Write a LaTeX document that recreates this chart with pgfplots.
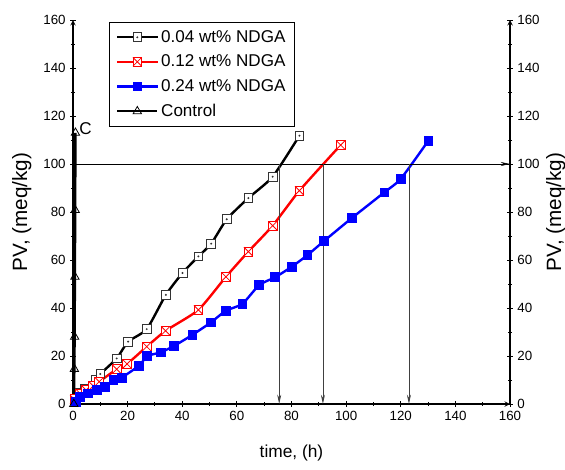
\documentclass[border=0pt]{standalone}
\usepackage{fontspec}
\setmainfont{Liberation Sans}
\usepackage{pgfplots}
\pgfplotsset{compat=1.18}
\usetikzlibrary{arrows.meta}

\pgfdeclareplotmark{sqdot}{%
  \pgfpathrectangle{\pgfpoint{-\pgfplotmarksize}{-\pgfplotmarksize}}{\pgfpoint{2\pgfplotmarksize}{2\pgfplotmarksize}}%
  \pgfusepathqfillstroke
  \pgfpathcircle{\pgfpointorigin}{0.12\pgfplotmarksize}\pgfusepathqstroke
}
\pgfdeclareplotmark{sqx}{%
  \pgfpathrectangle{\pgfpoint{-\pgfplotmarksize}{-\pgfplotmarksize}}{\pgfpoint{2\pgfplotmarksize}{2\pgfplotmarksize}}%
  \pgfusepathqfillstroke
  \pgfpathmoveto{\pgfpoint{-\pgfplotmarksize}{-\pgfplotmarksize}}\pgfpathlineto{\pgfpoint{\pgfplotmarksize}{\pgfplotmarksize}}%
  \pgfpathmoveto{\pgfpoint{-\pgfplotmarksize}{\pgfplotmarksize}}\pgfpathlineto{\pgfpoint{\pgfplotmarksize}{-\pgfplotmarksize}}%
  \pgfusepathqstroke
}

\begin{document}
\begin{tikzpicture}
\pgfplotsset{
  common/.style={
    scale only axis, width=327.75pt, height=288pt,
    xmin=0, xmax=160, ymin=0, ymax=160,
    xtick={0,20,...,160}, ytick={0,20,...,160}, minor tick num=1,
    tick align=outside, major tick length=4pt, minor tick length=2.5pt,
    tick style={black, line width=0.7pt},
    axis line style={-, line width=0.8pt},
    /pgf/number format/assume math mode=true,
    tick label style={font=\fontsize{10}{12}\selectfont},
  }
}
\begin{axis}[common,
  axis x line=bottom, axis y line=left,
  xlabel={time, (h)}, ylabel={PV, (meq/kg)},
  xlabel style={font=\fontsize{13}{15}\selectfont, at={(axis description cs:0.5,-0.128)}, anchor=center},
  ylabel style={font=\fontsize{15.5}{18}\selectfont, at={(axis description cs:-0.117,0.5)}, anchor=center},
  legend style={at={(axis cs:13.2,159.2)}, anchor=north west, draw=black, line width=0.6pt,
    font=\fontsize{12.8}{15}\selectfont, row sep=4pt, inner xsep=5pt, inner ysep=4pt,
    cells={anchor=west}},
  legend image code/.code={\draw[mark repeat=2,mark phase=2,#1] plot coordinates {(0pt,0pt)(15pt,0pt)(30pt,0pt)};},
  every axis plot/.append style={line width=1.8pt},
]
\addplot[black, smooth, tension=0.35, mark=sqdot, mark size=3.3pt,
  mark options={solid, fill=white, draw=black!80, line width=0.6pt}]
  coordinates {(0.5,2)(2.6,4.7)(4.4,6.5)(8.4,10)(10,12.5)(16,19)(20.2,26)(27,31.2)(34,45.5)(40.1,54.6)(45.9,61.5)(50.6,66.8)(56.3,77)(64.2,85.8)(73.1,94.7)(82.9,111.8)};
\addlegendentry{0.04 wt\% NDGA}
\addplot[red, smooth, tension=0.35, mark=sqx, mark size=3.3pt,
  mark options={solid, fill=white, draw=red, line width=0.6pt}]
  coordinates {(0.5,2)(2.6,4.4)(4.8,5.8)(7.4,7.5)(9.6,9.3)(16,14.5)(19.8,16.7)(27,23.9)(33.9,30.5)(45.9,39.2)(56,53)(64.2,63.5)(73.1,74.3)(82.9,88.9)(98,107.9)};
\addlegendentry{0.12 wt\% NDGA}
\addplot[blue, smooth, tension=0.35, mark=square*, mark size=3.3pt,
  mark options={solid, fill=blue, draw=blue, line width=0.6pt}]
  coordinates {(1,1)(2.6,3)(5.6,4.4)(8.7,5.8)(11.7,7)(14.8,10)(17.8,11)(24.2,16)(27.2,20)(32.1,21.5)(37,24.2)(43.7,28.8)(50.5,34)(56,38.9)(62,41.7)(68.2,49.6)(74,52.8)(80.1,57.2)(85.8,62)(91.9,67.9)(102,77.4)(114,88.2)(120,93.8)(130.1,109.7)};
\addlegendentry{0.24 wt\% NDGA}
\addplot[black, mark=triangle, mark size=3.6pt,
  mark options={solid, fill=white, draw=black, line width=0.6pt}]
  coordinates {(0.3,0)(0.5,14.6)(0.6,28)(0.7,53)(0.8,80.8)(0.9,113)};
\addlegendentry{Control}
% annotation arrows
\addplot[black, line width=0.5pt, -{Stealth[length=7pt,width=3pt]}, forget plot] coordinates {(0,100)(160,100)};
\addplot[black!75, line width=0.6pt, -{Stealth[length=7pt,width=3pt]}, forget plot] coordinates {(75.5,100)(75.5,0)};
\addplot[black!75, line width=0.6pt, -{Stealth[length=7pt,width=3pt]}, forget plot] coordinates {(91.5,100)(91.5,0)};
\addplot[black!75, line width=0.6pt, -{Stealth[length=7pt,width=3pt]}, forget plot] coordinates {(123,100)(123,0)};
\addplot[black, line width=0.8pt, -{Stealth[length=7pt,width=3pt]}, forget plot] coordinates {(0.7,113)(0.7,0)};
\node[anchor=south west, font=\fontsize{12.8}{15}\selectfont, inner sep=0pt] at (axis cs:2.2,112) {C};
\end{axis}
\begin{axis}[common,
  axis x line=none, axis y line=right,
  ylabel={PV, (meq/kg)},
  ylabel style={font=\fontsize{15.5}{18}\selectfont, at={(axis description cs:1.105,0.5)}, anchor=center},
]
\end{axis}
\pgfresetboundingbox
\path[use as bounding box] (-54.75pt,-48.75pt) rectangle (369pt,303pt);
\end{tikzpicture}
\end{document}
